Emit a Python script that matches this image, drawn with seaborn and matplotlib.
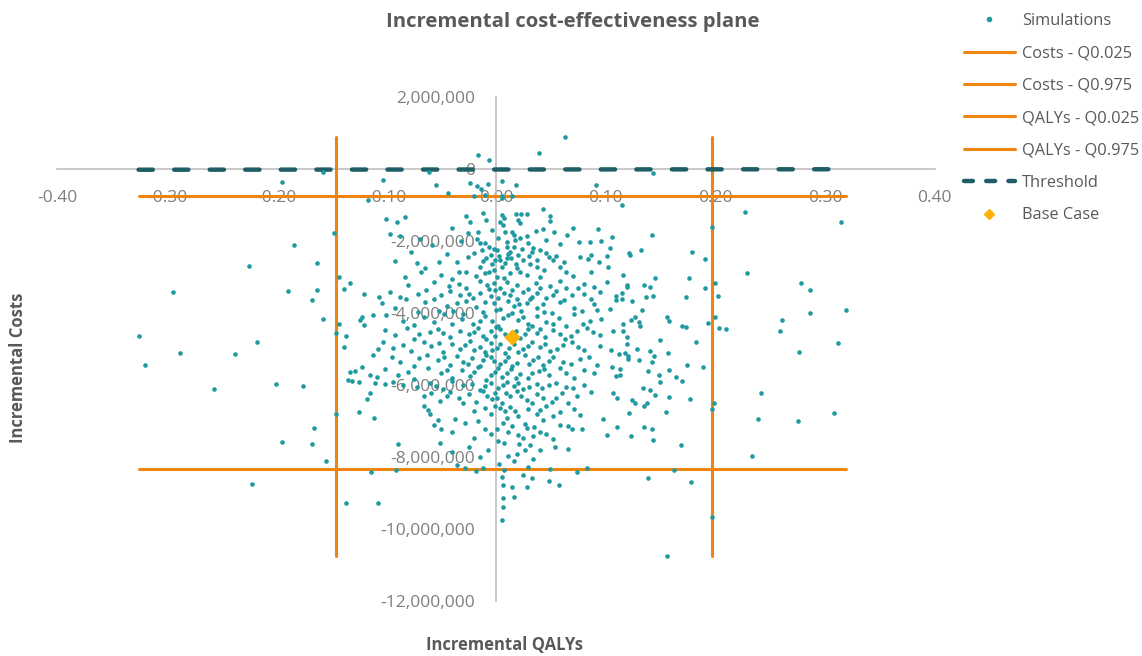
import matplotlib
matplotlib.use("Agg")
import matplotlib.pyplot as plt
import matplotlib.ticker as mticker
from matplotlib.lines import Line2D
import pandas as pd
import seaborn as sns

# Simulated points: (incremental QALYs, incremental costs in millions)
sims_top = [
    (0.063, 0.89), (0.039, 0.46), (-0.016, 0.39), (-0.006, 0.26), (-0.061, -0.06), (-0.103, -0.28),
    (-0.055, -0.43), (-0.024, -0.38), (-0.017, -0.46), (0.005, -0.32), (0.018, -0.43), (0.091, -0.43),
    (-0.044, -0.65), (-0.020, -0.74), (-0.010, -0.71), (0.005, -0.74), (0.015, -0.75), (0.043, -1.10),
    (-0.014, -0.54), (-0.007, -0.41), (0.005, -0.80),
]
sims_upper = [
    (-0.100, -1.38), (-0.090, -1.47), (-0.083, -1.33), (-0.027, -1.29), (-0.024, -1.45), (-0.012, -1.20),
    (-0.009, -1.40), (0.005, -1.26), (0.007, -1.35), (0.004, -1.45), (0.006, -1.54), (0.018, -1.23),
    (0.023, -1.23), (0.028, -1.23), (0.020, -1.40), (0.022, -1.48), (0.049, -1.29), (0.049, -1.42),
    (-0.097, -1.79), (-0.088, -1.86), (-0.069, -1.94), (-0.026, -1.77), (-0.016, -1.73), (-0.017, -1.94),
    (-0.015, -2.05), (-0.010, -2.05), (0.008, -1.75), (0.015, -1.75), (0.016, -1.82), (0.017, -1.96),
    (0.022, -1.91), (0.036, -1.70), (0.043, -1.66), (0.053, -1.74), (0.065, -1.82), (0.076, -2.02),
    (0.086, -2.02), (0.093, -1.66), (0.096, -1.98),
    (-0.092, -2.54), (-0.072, -2.60), (-0.052, -2.56), (-0.026, -2.42), (-0.013, -2.25), (-0.009, -2.47),
    (-0.005, -2.37), (-0.001, -2.51), (0.001, -2.23), (0.010, -2.14), (0.013, -2.28), (0.014, -2.47),
    (0.020, -2.37), (0.025, -2.51), (0.029, -2.05), (0.033, -2.28), (0.034, -2.19), (0.037, -2.51),
    (0.046, -2.33), (0.048, -2.42), (0.052, -2.51), (0.077, -2.44), (0.084, -2.49), (0.087, -2.38),
    (0.101, -2.40),
    (-0.083, -2.98), (-0.068, -2.84), (-0.065, -2.74), (-0.034, -2.84), (-0.027, -2.84), (-0.015, -2.70),
    (-0.010, -2.88), (-0.002, -2.79), (0.001, -2.98), (0.005, -2.70), (0.013, -2.88), (0.019, -2.74),
    (0.028, -2.93), (0.037, -2.70), (0.040, -2.98), (0.058, -2.70), (0.064, -2.84), (0.087, -2.84),
    (0.102, -2.72),
    (-0.006, -2.15), (0.003, -2.40), (0.008, -2.60), (-0.004, -2.62), (0.011, -2.35), (0.024, -2.20),
    (0.018, -2.62), (-0.012, -2.55), (0.030, -2.40), (0.040, -2.25),
]
sims_mid = [
    (-0.057, -3.12), (-0.043, -3.25), (-0.034, -3.18), (-0.027, -3.30), (-0.015, -3.10), (-0.008, -3.22),
    (-0.002, -3.15), (0.004, -3.28), (0.010, -3.12), (0.019, -3.20), (0.029, -3.32), (0.036, -3.14),
    (0.049, -3.24), (0.058, -3.10), (0.064, -3.30), (0.080, -3.18), (0.089, -3.26), (0.101, -3.12),
    (0.119, -3.22),
    (-0.097, -3.40), (-0.088, -3.55), (-0.071, -3.45), (-0.057, -3.60), (-0.042, -3.38), (-0.033, -3.50),
    (-0.021, -3.58), (-0.015, -3.42), (-0.005, -3.52), (-0.001, -3.36), (0.013, -3.48), (0.019, -3.60),
    (0.025, -3.40), (0.033, -3.55), (0.037, -3.44), (0.046, -3.58), (0.055, -3.38), (0.069, -3.50),
    (0.080, -3.46), (0.087, -3.60), (0.095, -3.40), (0.109, -3.52), (0.115, -3.44),
    (-0.104, -3.70), (-0.092, -3.85), (-0.071, -3.95), (-0.065, -3.68), (-0.045, -3.78), (-0.039, -3.92),
    (-0.027, -3.66), (-0.018, -3.82), (-0.012, -3.96), (-0.002, -3.72), (0.004, -3.88), (0.011, -3.64),
    (0.016, -3.80), (0.023, -3.94), (0.028, -3.70), (0.037, -3.86), (0.043, -3.75), (0.051, -3.98),
    (0.058, -3.68), (0.071, -3.84), (0.078, -3.92), (0.089, -3.74), (0.104, -3.88), (0.124, -3.66),
    (-0.100, -4.05), (-0.085, -4.20), (-0.075, -4.32), (-0.066, -4.10), (-0.057, -4.25), (-0.047, -4.02),
    (-0.031, -4.15), (-0.021, -4.30), (-0.010, -4.08), (-0.004, -4.22), (0.002, -4.35), (0.011, -4.04),
    (0.020, -4.18), (0.029, -4.28), (0.037, -4.06), (0.046, -4.24), (0.057, -4.12), (0.064, -4.34),
    (0.071, -4.02), (0.086, -4.20), (0.096, -4.14), (0.116, -4.30),
    (-0.101, -4.45), (-0.092, -4.60), (-0.081, -4.40), (-0.075, -4.70), (-0.060, -4.52), (-0.053, -4.42),
    (-0.042, -4.66), (-0.033, -4.48), (-0.025, -4.58), (-0.016, -4.40), (-0.009, -4.72), (-0.005, -4.50),
    (-0.001, -4.62), (0.004, -4.44), (0.008, -4.56), (0.022, -4.68), (0.029, -4.42), (0.037, -4.54),
    (0.045, -4.64), (0.052, -4.46), (0.063, -4.70), (0.074, -4.50), (0.083, -4.40), (0.095, -4.60),
    (0.107, -4.48), (0.119, -4.66),
    (-0.103, -4.80), (-0.094, -4.95), (-0.078, -5.05), (-0.066, -4.78), (-0.059, -4.90), (-0.048, -5.08),
    (-0.040, -4.84), (-0.033, -4.98), (-0.024, -4.76), (-0.015, -4.92), (-0.010, -5.06), (-0.005, -4.82),
    (0.001, -4.96), (0.008, -5.10), (0.016, -4.86), (0.025, -5.00), (0.033, -4.78), (0.040, -4.94),
    (0.049, -5.04), (0.061, -4.88), (0.069, -4.80), (0.080, -5.02), (0.095, -4.90),
    (-0.095, -5.20), (-0.088, -5.35), (-0.075, -5.45), (-0.063, -5.15), (-0.053, -5.30), (-0.042, -5.42),
    (-0.036, -5.18), (-0.030, -5.36), (-0.022, -5.24), (-0.015, -5.46), (-0.009, -5.14), (-0.002, -5.32),
    (0.004, -5.40), (0.011, -5.22), (0.019, -5.38), (0.026, -5.16), (0.034, -5.28), (0.043, -5.44),
    (0.052, -5.20), (0.061, -5.34), (0.077, -5.26), (0.092, -5.42),
    (-0.101, -5.55), (-0.089, -5.70), (-0.075, -5.82), (-0.062, -5.52), (-0.050, -5.66), (-0.040, -5.78),
    (-0.031, -5.58), (-0.024, -5.74), (-0.016, -5.50), (-0.009, -5.84), (-0.001, -5.62), (0.005, -5.76),
    (0.014, -5.54), (0.022, -5.68), (0.029, -5.80), (0.039, -5.60), (0.048, -5.72), (0.058, -5.52),
    (0.071, -5.78), (0.089, -5.64),
]
sims_lower = [
    (-0.101, -5.95), (-0.094, -5.90), (-0.072, -6.05), (-0.060, -5.92), (-0.048, -6.10), (-0.040, -5.88),
    (-0.030, -6.00), (-0.015, -6.12), (-0.005, -5.94), (0.002, -6.06), (0.010, -5.90), (0.016, -6.02),
    (0.025, -6.10), (0.037, -5.96), (0.042, -6.08), (0.055, -5.92), (0.064, -6.04), (0.080, -5.98),
    (-0.066, -6.30), (-0.059, -6.20), (-0.051, -6.42), (-0.042, -6.18), (-0.034, -6.35), (-0.025, -6.25),
    (-0.018, -6.45), (-0.012, -6.15), (-0.004, -6.38), (-0.001, -6.22), (0.005, -6.48), (0.013, -6.28),
    (0.019, -6.16), (0.028, -6.40), (0.037, -6.24), (0.043, -6.34), (0.051, -6.46), (0.060, -6.20),
    (0.074, -6.30), (0.087, -6.18),
    (-0.066, -6.58), (-0.062, -6.68), (-0.060, -6.78), (-0.005, -6.80), (-0.001, -6.58), (0.008, -6.72),
    (0.013, -6.60), (0.020, -6.85), (0.029, -6.66), (0.037, -6.78), (0.046, -6.56), (0.058, -6.74),
    (0.071, -6.64), (0.077, -6.82),
    (-0.057, -7.10), (-0.053, -6.95), (-0.050, -7.20), (-0.037, -6.92), (-0.028, -7.05), (-0.016, -7.00),
    (0.001, -7.22), (0.010, -6.90), (0.026, -7.08), (0.028, -7.18), (0.043, -6.96), (0.066, -7.12),
    (0.069, -7.20), (0.098, -6.94),
    (-0.051, -7.60), (-0.005, -7.35), (0.002, -7.55), (0.011, -7.30), (0.025, -7.45), (0.031, -7.65),
    (0.034, -7.40), (0.040, -7.28), (0.052, -7.50), (0.101, -7.38),
    (-0.089, -7.62), (-0.040, -7.85), (-0.015, -8.00), (-0.007, -7.80), (0.011, -7.95), (0.016, -8.10),
    (0.019, -7.90), (0.026, -7.78), (0.034, -8.05), (0.054, -7.72), (0.066, -7.76),
    (-0.091, -8.35), (-0.036, -8.22), (-0.028, -8.30), (-0.018, -8.38), (-0.012, -8.28), (0.007, -8.35),
    (0.029, -8.26), (0.049, -8.32), (0.074, -8.40), (0.083, -8.30),
    (0.005, -8.53), (0.025, -8.49), (0.033, -8.58), (0.005, -9.75), (0.006, -9.37), (0.006, -9.13),
    (0.016, -9.11), (0.006, -8.76), (0.015, -8.83), (0.028, -8.83), (0.048, -8.66), (0.057, -8.76),
]
# further points in the dense centre of the cloud (estimated between those above)
sims_core = [
    (-0.040, -1.62), (-0.032, -1.98), (-0.004, -1.68), (0.002, -1.90), (0.010, -2.02), (0.028, -1.85),
    (0.046, -1.95), (0.058, -2.08), (-0.058, -2.10), (0.070, -1.62),
    (-0.078, -2.30), (-0.045, -2.34), (-0.036, -2.58), (-0.020, -2.32), (-0.018, -2.95), (-0.006, -2.85),
    (0.004, -2.52), (0.007, -3.02), (0.016, -2.16), (0.022, -2.85), (0.031, -2.62), (0.044, -2.78),
    (0.055, -2.40), (0.062, -2.58), (0.070, -2.95), (0.094, -2.58), (-0.050, -2.92), (-0.040, -3.05),
    (0.010, -2.45), (-0.002, -2.22),
    (-0.080, -3.22), (-0.064, -3.35), (-0.050, -3.48), (-0.036, -3.70), (-0.025, -3.45), (-0.010, -3.68),
    (-0.006, -3.32), (0.002, -3.58), (0.007, -3.42), (0.015, -3.34), (0.021, -3.75), (0.031, -3.60),
    (0.040, -3.30), (0.052, -3.48), (0.062, -3.62), (0.075, -3.30), (0.092, -3.90), (-0.052, -3.92),
    (-0.030, -4.02), (-0.015, -4.20), (0.006, -4.12), (0.015, -3.98), (0.025, -4.10), (0.033, -4.36),
    (0.052, -4.30), (0.079, -4.28), (-0.082, -3.60), (-0.040, -4.30), (0.000, -3.90), (0.044, -3.95),
    (-0.070, -4.58), (-0.048, -4.55), (-0.020, -4.52), (-0.012, -4.62), (0.000, -4.38), (0.012, -4.62),
    (0.018, -4.48), (0.026, -4.56), (0.040, -4.44), (0.058, -4.58), (0.068, -4.62), (0.088, -4.52),
    (-0.085, -4.88), (-0.052, -4.82), (-0.028, -4.88), (-0.020, -5.02), (-0.004, -5.02), (0.004, -4.86),
    (0.012, -4.96), (0.020, -5.06), (0.029, -4.90), (0.045, -4.86), (0.056, -5.00), (0.075, -4.92),
    (-0.070, -5.25), (-0.047, -5.22), (-0.026, -5.40), (-0.012, -5.30), (-0.005, -5.20), (0.008, -5.32),
    (0.015, -5.45), (0.030, -5.40), (0.038, -5.20), (0.048, -5.32), (0.068, -5.40), (0.085, -5.22),
    (-0.080, -5.62), (-0.045, -5.56), (-0.020, -5.62), (-0.005, -5.70), (0.002, -5.52), (0.010, -5.66),
    (0.018, -5.78), (0.033, -5.66), (0.044, -5.55), (0.064, -5.66), (0.080, -5.56),
    (-0.085, -6.00), (-0.055, -6.02), (-0.022, -5.96), (-0.010, -6.02), (0.006, -5.98), (0.020, -5.92),
    (0.030, -6.05), (0.048, -6.00), (0.070, -6.08), (-0.045, -6.30), (-0.030, -6.48), (-0.008, -6.28),
    (0.001, -6.35), (0.009, -6.20), (0.023, -6.30), (0.033, -6.50), (0.055, -6.36), (0.066, -6.50),
    (-0.020, -6.70), (-0.010, -6.62), (0.004, -6.62), (0.017, -6.72), (0.040, -6.68), (0.052, -6.84),
    (-0.040, -7.30), (-0.020, -7.45), (-0.010, -7.20), (0.006, -7.05), (0.015, -7.12), (0.020, -7.38),
    (0.035, -7.15), (0.046, -7.35), (0.058, -7.10), (0.078, -7.20), (0.007, -7.60), (0.021, -7.62),
    (0.040, -7.80), (-0.025, -7.70), (0.003, -8.18),
]
sims_left = [
    (-0.158, -0.08), (-0.195, -0.34), (-0.117, -0.85), (-0.148, -1.76), (-0.184, -2.10), (-0.225, -2.67),
    (-0.163, -2.59), (-0.295, -3.41), (-0.190, -3.37), (-0.163, -3.36), (-0.168, -3.63), (-0.143, -2.99),
    (-0.133, -3.16), (-0.139, -3.33), (-0.120, -3.46), (-0.107, -3.55), (-0.158, -4.15), (-0.143, -4.28),
    (-0.124, -4.18), (-0.122, -4.11), (-0.120, -4.32), (-0.112, -4.04), (-0.326, -4.62), (-0.146, -4.53),
    (-0.137, -4.62),
    (-0.320, -5.44), (-0.288, -5.09), (-0.238, -5.13), (-0.218, -4.78), (-0.257, -6.10), (-0.201, -5.96),
    (-0.176, -6.01), (-0.166, -7.19), (-0.195, -7.58), (-0.168, -7.63), (-0.155, -8.10), (-0.146, -6.78),
    (-0.223, -8.73), (-0.137, -9.27), (-0.108, -9.27), (-0.114, -8.39), (-0.139, -4.92), (-0.112, -5.16),
    (-0.108, -4.98), (-0.133, -5.63), (-0.129, -5.61), (-0.122, -5.49), (-0.135, -5.84), (-0.131, -5.88),
    (-0.125, -5.91), (-0.115, -5.71), (-0.109, -5.76), (-0.110, -5.94), (-0.115, -6.22), (-0.118, -6.38),
    (-0.125, -6.73), (-0.111, -6.91),
]
sims_right = [
    (0.143, -0.11), (0.227, -1.19), (0.315, -1.46), (0.197, -1.61), (0.115, -0.99), (0.142, -1.82),
    (0.106, -1.88), (0.104, -2.17), (0.121, -2.31), (0.122, -2.38), (0.132, -2.23), (0.179, -2.30),
    (0.191, -2.48), (0.229, -2.88), (0.116, -2.94), (0.145, -3.02), (0.176, -3.02), (0.119, -3.27),
    (0.135, -3.21), (0.140, -3.27), (0.191, -3.30), (0.200, -3.14), (0.202, -3.52), (0.278, -3.16),
    (0.286, -3.35), (0.109, -3.63), (0.115, -3.61), (0.137, -3.53), (0.143, -3.52), (0.173, -3.54),
    (0.133, -3.90), (0.286, -3.98), (0.319, -3.90), (0.123, -4.18), (0.127, -4.11), (0.130, -4.24),
    (0.131, -4.34), (0.156, -4.10), (0.158, -4.21), (0.170, -4.34), (0.173, -4.37), (0.193, -4.26),
    (0.200, -4.11), (0.203, -4.39), (0.210, -4.43), (0.261, -4.18),
    (0.312, -4.81), (0.276, -5.06), (0.259, -4.49), (0.242, -6.21), (0.239, -6.94), (0.275, -7.00),
    (0.308, -6.76), (0.233, -7.96), (0.199, -6.48), (0.197, -6.64), (0.139, -8.56), (0.162, -8.35),
    (0.116, -4.50), (0.150, -4.74), (0.182, -4.78), (0.119, -4.84), (0.105, -5.02), (0.129, -4.99),
    (0.140, -5.05), (0.157, -5.09), (0.112, -5.13), (0.118, -5.09), (0.120, -5.17), (0.120, -5.27),
    (0.130, -5.30), (0.144, -5.19), (0.142, -5.36), (0.174, -5.44), (0.189, -5.49), (0.106, -5.49),
    (0.113, -5.55), (0.109, -5.74), (0.113, -5.71), (0.139, -5.61), (0.149, -5.71), (0.158, -5.57),
    (0.164, -5.77), (0.170, -5.88), (0.150, -5.91), (0.107, -6.20), (0.110, -6.35), (0.134, -6.07),
    (0.140, -6.13), (0.145, -6.26), (0.158, -6.32), (0.177, -6.37), (0.124, -6.39), (0.127, -6.49),
    (0.135, -6.57), (0.138, -6.48), (0.121, -6.76), (0.155, -6.73), (0.110, -7.16), (0.135, -7.16),
    (0.142, -7.22), (0.123, -7.41), (0.143, -7.52), (0.169, -7.66),
    (0.156, -10.73), (0.178, -8.67), (0.197, -9.66),
]

base_case = (0.015, -4.64)          # QALYs, costs (millions)
costs_q025 = -8.33                   # millions
costs_q975 = -0.74
qalys_q025 = -0.146
qalys_q975 = 0.197
wtp = 20000                          # threshold per QALY (line looks flat at this scale)

x_ticks = [-0.40, -0.30, -0.20, -0.10, 0.00, 0.10, 0.20, 0.30, 0.40]
y_ticks = [-12, -10, -8, -6, -4, -2, 0, 2]  # millions

teal = "#1F9AA0"
orange = "#F08410"
dark_teal = "#1F5E66"
gold = "#FFB20A"
grey_text = "#595959"

df = pd.DataFrame(sims_top + sims_upper + sims_mid + sims_core + sims_lower + sims_left + sims_right,
                  columns=["qaly", "cost"])
df["cost"] = df["cost"] * 1e6

sns.set_style("white")
plt.rcParams["font.family"] = ["Open Sans", "DejaVu Sans"]
plt.rcParams["axes.unicode_minus"] = False

fig = plt.figure(figsize=(11.42, 6.56), dpi=100)
ax = fig.add_axes([0.0503, 0.0831, 0.7681, 0.7683])

xmin, xmax = df["qaly"].min(), df["qaly"].max()
ymin, ymax = df["cost"].min(), df["cost"].max()

# quantile lines span the simulation range
ax.plot([xmin, xmax], [costs_q025 * 1e6] * 2, color=orange, lw=2.2, zorder=3)
ax.plot([xmin, xmax], [costs_q975 * 1e6] * 2, color=orange, lw=2.2, zorder=3)
ax.plot([qalys_q025] * 2, [ymin, ymax], color=orange, lw=2.2, zorder=3)
ax.plot([qalys_q975] * 2, [ymin, ymax], color=orange, lw=2.2, zorder=3)
ax.plot([xmin, xmax], [wtp * xmin, wtp * xmax], color=dark_teal, lw=3.2,
        dashes=(3.2, 4.8), dash_capstyle="round", zorder=3.5)

sns.scatterplot(data=df, x="qaly", y="cost", ax=ax, color=teal, s=11,
                linewidth=0, zorder=4)
sns.scatterplot(x=[base_case[0]], y=[base_case[1] * 1e6], ax=ax, marker="D",
                color=gold, s=70, linewidth=0, zorder=5)

ax.set_xlim(-0.4, 0.4)
ax.set_ylim(-12e6, 2e6)
ax.set_xlabel("")
ax.set_ylabel("")

# axes crossing at the origin, Excel style
for side in ["top", "right"]:
    ax.spines[side].set_visible(False)
for side in ["left", "bottom"]:
    ax.spines[side].set_position(("data", 0))
    ax.spines[side].set_color("#BFBFBF")
    ax.spines[side].set_linewidth(1.2)
    ax.spines[side].set_zorder(2)

ax.xaxis.set_major_locator(mticker.FixedLocator(x_ticks))
ax.xaxis.set_major_formatter(mticker.FuncFormatter(lambda v, p: f"{v:.2f}"))
ax.yaxis.set_major_locator(mticker.FixedLocator([t * 1e6 for t in y_ticks]))
ax.yaxis.set_major_formatter(mticker.FuncFormatter(lambda v, p: f"{v:,.0f}"))
ax.tick_params(direction="inout", length=12, width=1.2, color="#BFBFBF",
               labelcolor="#7F7F7F", labelsize=12.5)
ax.tick_params(axis="x", pad=9)
ax.tick_params(axis="y", pad=9)

fig.text(573 / 1142, 1 - 22 / 656, "Incremental cost-effectiveness plane", ha="center",
         va="center", fontsize=14.6, fontweight="bold", color=grey_text)
fig.text(504 / 1142, 1 - 645 / 656, "Incremental QALYs", ha="center", va="center",
         fontsize=12, fontweight="bold", color=grey_text)
fig.text(18 / 1142, 1 - 368 / 656, "Incremental Costs", ha="center", va="center",
         rotation=90, fontsize=12, fontweight="bold", color=grey_text)

handles = [
    Line2D([], [], ls="", marker="o", markersize=3, color=teal),
    Line2D([], [], color=orange, lw=2.2),
    Line2D([], [], color=orange, lw=2.2),
    Line2D([], [], color=orange, lw=2.2),
    Line2D([], [], color=orange, lw=2.2),
    Line2D([], [], color=dark_teal, lw=3.2, dashes=(2.0, 3.0), dash_capstyle="round"),
    Line2D([], [], ls="", marker="D", markersize=5, color=gold),
]
labels = ["Simulations", "Costs - Q0.025", "Costs - Q0.975", "QALYs - Q0.025",
          "QALYs - Q0.975", "Threshold", "Base Case"]
leg = ax.legend(handles, labels, loc="upper left", bbox_to_anchor=(964 / 1142, 1 - 13 / 656),
                bbox_transform=fig.transFigure, frameon=False, fontsize=11.8,
                handlelength=3.1, handletextpad=0.45, labelspacing=1.0,
                borderaxespad=0, borderpad=0)
for t in leg.get_texts():
    t.set_color(grey_text)

fig.savefig("out.png", dpi=100)
